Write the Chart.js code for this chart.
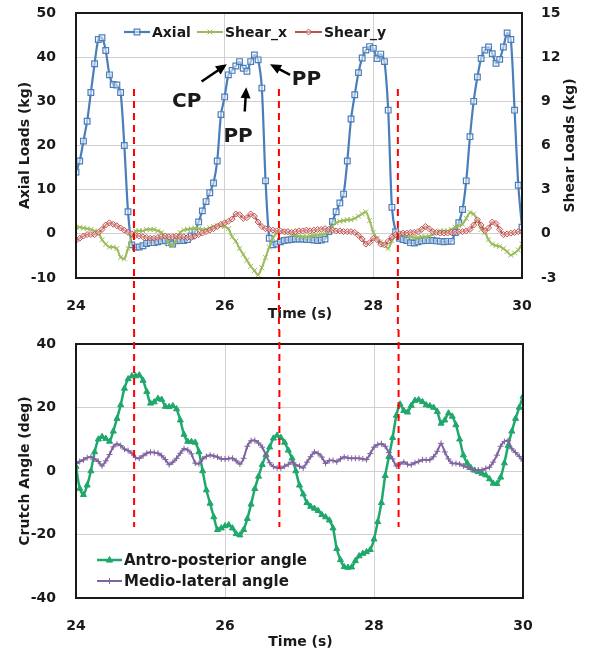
<!DOCTYPE html>
<html>
<head>
<meta charset="utf-8">
<script src="https://cdn.jsdelivr.net/npm/chart.js@4.4.0/dist/chart.umd.min.js"></script>
<style>
  html, body { margin: 0; padding: 0; background: #fff; }
  #wrap { position: relative; width: 592px; height: 653px; }
  canvas { position: absolute; left: 0; }
  #loads { top: 0; }
  #angles { top: 330px; }
</style>
</head>
<body>
<div id="wrap">
  <canvas id="loads" width="592" height="330"></canvas>
  <canvas id="angles" width="592" height="323"></canvas>
</div>
<script>
// sample times (s)
const time = [
  24, 24.05, 24.1, 24.15, 24.2, 24.25, 24.3, 24.35, 24.4, 24.45,
  24.5, 24.55, 24.6, 24.65, 24.7, 24.75, 24.8, 24.85, 24.9, 24.95,
  25, 25.05, 25.1, 25.15, 25.2, 25.25, 25.3, 25.35, 25.4, 25.45,
  25.5, 25.55, 25.6, 25.65, 25.7, 25.75, 25.8, 25.85, 25.9, 25.95,
  26, 26.05, 26.1, 26.15, 26.2, 26.25, 26.3, 26.35, 26.4, 26.45,
  26.5, 26.55, 26.6, 26.65, 26.7, 26.75, 26.8, 26.85, 26.9, 26.95,
  27, 27.05, 27.1, 27.15, 27.2, 27.25, 27.3, 27.35, 27.4, 27.45,
  27.5, 27.55, 27.6, 27.65, 27.7, 27.75, 27.8, 27.85, 27.9, 27.95,
  28, 28.05, 28.1, 28.15, 28.2, 28.25, 28.3, 28.35, 28.4, 28.45,
  28.5, 28.55, 28.6, 28.65, 28.7, 28.75, 28.8, 28.85, 28.9, 28.95,
  29, 29.05, 29.1, 29.15, 29.2, 29.25, 29.3, 29.35, 29.4, 29.45,
  29.5, 29.55, 29.6, 29.65, 29.7, 29.75, 29.8, 29.85, 29.9, 29.95,
  30
];

// top chart: loads (kg)
const axial = [
  14, 16.5, 21, 25.5, 32, 38.5, 44, 44.4, 41.5, 36,
  33.8, 33.7, 32, 20, 5, -2.5, -3, -3, -2.7, -2.2,
  -2, -2, -1.8, -1.6, -1.5, -2, -2.3, -1.6, -1.5, -1.5,
  -1.3, -0.5, 0.5, 2.7, 5.2, 7.3, 9.3, 11.5, 16.5, 27,
  31, 36, 37, 38, 39, 37.5, 36.8, 39, 40.5, 39.4,
  33, 12, -1, -2.5, -2.3, -1.8, -1.5, -1.4, -1.3, -1.2,
  -1.2, -1.2, -1.3, -1.3, -1.4, -1.5, -1.4, -1.2, 0.5, 2.8,
  5, 7, 9, 16.5, 26, 31.5, 36.5, 39.8, 41.6, 42.4,
  42, 39.7, 40.7, 39, 28, 6, 0.5, -1, -1.3, -1.5,
  -2, -2.1, -1.8, -1.6, -1.5, -1.5, -1.5, -1.6, -1.7, -1.8,
  -1.7, -1.7, 0.3, 2.5, 5.5, 12, 22, 30, 35.5, 39.7,
  41.6, 42.3, 40.8, 38.6, 39.5, 42.3, 45.5, 44, 28, 11,
  1.5
];
const shearX = [
  0.45, 0.45, 0.4, 0.35, 0.3, 0.2, 0.1, -0.4, -0.7, -0.9,
  -0.9, -1.0, -1.6, -1.7, -1.0, -0.2, 0.2, 0.2, 0.2, 0.3,
  0.3, 0.3, 0.2, 0.1, -0.2, -0.7, -0.8, -0.4, 0.1, 0.25,
  0.3, 0.35, 0.4, 0.35, 0.3, 0.3, 0.4, 0.5, 0.55, 0.55,
  0.5, 0.35, -0.2, -0.5, -1.0, -1.4, -1.8, -2.2, -2.5, -2.8,
  -2.3, -1.6, -0.9, -0.3, 0.05, 0.15, 0.15, 0.1, 0.0, -0.1,
  -0.15, -0.2, -0.2, -0.15, -0.1, -0.1, -0.05, 0.0, 0.2, 0.5,
  0.75, 0.85, 0.9, 0.95, 0.95, 1.05, 1.2, 1.35, 1.5, 0.9,
  0.1, -0.3, -0.55, -0.75, -1.0, -0.5, -0.1, 0.05, 0.0, -0.15,
  -0.2, -0.25, -0.25, -0.2, -0.2, -0.15, -0.05, 0.1, 0.2, 0.2,
  0.2, 0.3, 0.45, 0.55, 0.65, 1.05, 1.45, 1.35, 0.9, 0.3,
  0.1, -0.4, -0.7, -0.8, -0.85, -1.0, -1.2, -1.45, -1.3, -1.1,
  -0.7
];
const shearY = [
  -0.45, -0.3, -0.15, -0.05, -0.05, -0.05, 0.1, 0.3, 0.6, 0.75,
  0.65, 0.55, 0.4, 0.25, 0.1, 0.0, -0.1, -0.15, -0.2, -0.25,
  -0.3, -0.3, -0.25, -0.2, -0.15, -0.2, -0.2, -0.15, -0.2, -0.2,
  -0.25, -0.25, -0.15, -0.05, 0.05, 0.15, 0.25, 0.35, 0.5, 0.65,
  0.75, 0.85, 1.0, 1.35, 1.3, 1.05, 1.1, 1.35, 1.2, 0.8,
  0.5, 0.35, 0.3, 0.25, 0.2, 0.2, 0.15, 0.15, 0.1, 0.15,
  0.2, 0.2, 0.25, 0.2, 0.25, 0.3, 0.3, 0.35, 0.3, 0.25,
  0.2, 0.2, 0.15, 0.15, 0.15, 0.1, -0.1, -0.35, -0.7, -0.6,
  -0.3, -0.4, -0.7, -0.75, -0.5, -0.2, -0.05, 0.0, 0.05, 0.05,
  0.1, 0.1, 0.15, 0.3, 0.5, 0.35, 0.15, 0.1, 0.05, 0.05,
  0.05, 0.1, 0.15, 0.15, 0.15, 0.2, 0.3, 0.6, 0.95, 0.6,
  0.2, 0.4, 0.8, 0.7, 0.3, -0.05, 0.0, 0.05, 0.1, 0.15,
  0.15
];

// bottom chart: crutch angles (deg)
const antroPosterior = [
  1.4, -5.5, -7.5, -4.5, 0, 6, 10, 10.8, 10.2, 9.3,
  12.5, 16.5, 20.8, 26, 29, 29.9, 29.9, 30.2, 28.5, 25,
  21.3, 21.7, 22.8, 22.5, 20.3, 20.2, 20.5, 19.5, 16, 11.5,
  9.3, 9.2, 9.0, 6, 0, -6, -10.2, -14.5, -18.5, -18,
  -17.3, -17, -18, -19.8, -20.2, -18.5, -15, -10.5, -5.6, -1.7,
  2, 5, 7.5, 10.3, 11.2, 10.5, 9, 6.5, 4, 0,
  -4.5, -7.3, -10, -11.2, -11.8, -12.5, -13.8, -14.5, -15.5, -18,
  -24.5, -28, -30.2, -30.4, -30.3, -28.3, -26.8, -26, -25.5, -24.8,
  -21.5, -16, -10, -1.5, 4.5, 10.5, 17.5, 21, 19, 18.5,
  20.6, 22.2, 22.4, 21.8, 20.8, 20.5, 20, 18.7, 15, 16,
  18.2, 17.2, 14.5, 10, 5, 2.5, 1, 0.2, -0.3, -0.8,
  -1.3, -2.5, -3.9, -4, -2, 2.5, 8, 12.5, 16.5, 20,
  23.5
];
const medioLateral = [
  2.4, 3.0, 3.5, 4.2, 4.4, 3.8, 3.0, 1.6, 3.2, 5.2,
  7.6, 8.5, 8.0, 6.9, 6.4, 5.6, 4.2, 4.0, 4.8, 5.6,
  5.9, 5.8, 5.6, 4.8, 3.6, 2.0, 2.8, 4.0, 5.6, 7.0,
  6.6, 5.4, 2.5, 2.3, 3.8, 4.6, 5.0, 4.7, 4.4, 3.8,
  3.8, 3.9, 4.0, 3.2, 2.2, 4.0, 7.8, 9.5, 9.6, 8.8,
  7.5, 5.0, 2.6, 1.4, 1.0, 0.9, 1.5, 2.1, 2.8, 1.9,
  1.5, 1.0, 2.8, 4.5, 6.0, 5.5, 4.4, 2.4, 3.3, 3.3,
  2.9, 3.8, 4.4, 4.1, 4.0, 4.0, 4.0, 3.8, 3.6, 5.5,
  7.5, 8.3, 8.6, 7.8, 5.8, 3.8, 1.6, 2.2, 2.8, 2.1,
  2.0, 2.6, 3.0, 3.5, 3.5, 3.5, 4.5, 6.2, 8.7, 6.0,
  3.8, 2.4, 2.4, 2.2, 1.6, 1.2, 0.6, 0.3, 0.3, 0.3,
  0.8, 1.2, 2.8, 5.0, 7.8, 9.3, 9.6, 7.0, 5.8, 4.6,
  3.2
];

// red dashed event markers (s) and where they start / stop
const guideTimes = [24.78, 26.73, 28.33];
const guideTopKg = 32.8;
const guideBottomDeg = -17.6;

// CP / PP annotations (time, kg)
const notes = [
  { text: 'CP', t: 25.49, kg: 29.9 },
  { text: 'PP', t: 26.18, kg: 21.9 },
  { text: 'PP', t: 27.10, kg: 34.8 }
];
const arrows = [
  { from: [25.69, 34.5], to: [26.03, 38.4] },
  { from: [26.27, 27.7], to: [26.29, 33.2] },
  { from: [26.88, 36.0], to: [26.61, 38.4] }
];

const FONT = "'DejaVu Sans', sans-serif";
const INK = '#1a1a1a';
const GRID = '#d0d0d0';
const NONE = 'rgba(0,0,0,0)';

const pts = arr => time.map((t, i) => ({ x: t, y: arr[i] }));
const tickFont = { family: FONT, size: 14, weight: 'bold' };

function drawText(ctx, text, x, y, size, rot, align) {
  ctx.save();
  ctx.translate(x, y);
  if (rot) ctx.rotate(rot);
  ctx.font = 'bold ' + size + 'px ' + FONT;
  ctx.fillStyle = INK;
  ctx.textAlign = align || 'center';
  ctx.textBaseline = 'middle';
  ctx.fillText(text, 0, 0);
  ctx.restore();
}

function drawFrame(chart) {
  const a = chart.chartArea, ctx = chart.ctx;
  ctx.save();
  ctx.strokeStyle = INK;
  ctx.lineWidth = 2;
  ctx.strokeRect(a.left, a.top, a.right - a.left, a.bottom - a.top);
  ctx.restore();
}

function drawGuides(chart, y0, y1) {
  const ctx = chart.ctx;
  ctx.save();
  ctx.strokeStyle = '#ff0000';
  ctx.lineWidth = 2;
  ctx.setLineDash([7, 5]);
  guideTimes.forEach(t => {
    const x = chart.scales.x.getPixelForValue(t);
    ctx.beginPath();
    ctx.moveTo(x, y0);
    ctx.lineTo(x, y1);
    ctx.stroke();
  });
  ctx.restore();
}

function drawArrow(ctx, x1, y1, x2, y2) {
  const ang = Math.atan2(y2 - y1, x2 - x1), head = 11, half = 5;
  const c = Math.cos(ang), s = Math.sin(ang);
  ctx.save();
  ctx.strokeStyle = '#000';
  ctx.fillStyle = '#000';
  ctx.lineWidth = 2.5;
  ctx.beginPath();
  ctx.moveTo(x1, y1);
  ctx.lineTo(x2 - head * 0.8 * c, y2 - head * 0.8 * s);
  ctx.stroke();
  ctx.beginPath();
  ctx.moveTo(x2, y2);
  ctx.lineTo(x2 - head * c + half * s, y2 - head * s - half * c);
  ctx.lineTo(x2 - head * c - half * s, y2 - head * s + half * c);
  ctx.closePath();
  ctx.fill();
  ctx.restore();
}

function drawMarker(ctx, ds, x, y) {
  const r = ds.pointRadius;
  ctx.save();
  ctx.strokeStyle = ds.borderColor;
  ctx.fillStyle = ds.pointBackgroundColor;
  ctx.lineWidth = ds.pointBorderWidth;
  ctx.beginPath();
  if (ds.pointStyle === 'rect') {
    const h = r * Math.SQRT1_2;
    ctx.rect(x - h, y - h, 2 * h, 2 * h);
    ctx.fill(); ctx.stroke();
  } else if (ds.pointStyle === 'rectRot') {
    ctx.moveTo(x, y - r); ctx.lineTo(x + r, y); ctx.lineTo(x, y + r); ctx.lineTo(x - r, y);
    ctx.closePath(); ctx.fill(); ctx.stroke();
  } else if (ds.pointStyle === 'triangle') {
    ctx.moveTo(x, y - r); ctx.lineTo(x + r * 0.9, y + r * 0.6); ctx.lineTo(x - r * 0.9, y + r * 0.6);
    ctx.closePath(); ctx.fill(); ctx.stroke();
  } else if (ds.pointStyle === 'cross') {
    ctx.moveTo(x - r, y); ctx.lineTo(x + r, y); ctx.moveTo(x, y - r); ctx.lineTo(x, y + r);
    ctx.stroke();
  } else {
    const h = r * Math.SQRT1_2;
    ctx.moveTo(x - h, y - h); ctx.lineTo(x + h, y + h); ctx.moveTo(x + h, y - h); ctx.lineTo(x - h, y + h);
    ctx.stroke();
  }
  ctx.restore();
}

function drawLegendItem(ctx, ds, x, y, len, size) {
  ctx.save();
  ctx.strokeStyle = ds.borderColor;
  ctx.lineWidth = ds.borderWidth;
  ctx.beginPath();
  ctx.moveTo(x, y);
  ctx.lineTo(x + len, y);
  ctx.stroke();
  ctx.restore();
  drawMarker(ctx, ds, x + len / 2, y);
  drawText(ctx, ds.label, x + len + 2, y + 1, size, 0, 'left');
}

// ---------- top chart ----------
const loadsDecor = {
  id: 'loadsDecor',
  beforeDatasetsDraw(chart) { drawFrame(chart); },
  afterDraw(chart) {
    const ctx = chart.ctx, a = chart.chartArea, sx = chart.scales.x, sy = chart.scales.y;
    const midY = (a.top + a.bottom) / 2;
    drawFrame(chart);
    drawText(ctx, 'Axial Loads (kg)', 25, midY, 14, -Math.PI / 2);
    drawText(ctx, 'Shear Loads (kg)', 570, midY, 14, -Math.PI / 2);
    drawText(ctx, 'Time (s)', (a.left + a.right) / 2 + 1, a.bottom + 36, 14);

    const ds = chart.data.datasets;
    const ly = a.top + 19;
    drawLegendItem(ctx, ds[0], a.left + 48, ly, 26, 14);
    drawLegendItem(ctx, ds[1], a.left + 121, ly, 26, 14);
    drawLegendItem(ctx, ds[2], a.left + 219, ly, 27, 14);

    notes.forEach(n => drawText(ctx, n.text, sx.getPixelForValue(n.t), sy.getPixelForValue(n.kg), 20));
    arrows.forEach(ar => drawArrow(ctx,
      sx.getPixelForValue(ar.from[0]), sy.getPixelForValue(ar.from[1]),
      sx.getPixelForValue(ar.to[0]), sy.getPixelForValue(ar.to[1])));

    drawGuides(chart, sy.getPixelForValue(guideTopKg), chart.height);
  }
};

new Chart(document.getElementById('loads'), {
  type: 'line',
  data: {
    datasets: [
      {
        label: 'Axial', data: pts(axial), yAxisID: 'y', order: 2,
        borderColor: '#4a7ebb', borderWidth: 2.2, tension: 0.25,
        pointStyle: 'rect', pointRadius: 4, pointBorderWidth: 1.2,
        pointBorderColor: '#4a7ebb', pointBackgroundColor: 'rgba(255,255,255,0.5)'
      },
      {
        label: 'Shear_x', data: pts(shearX), yAxisID: 'y1', order: 1,
        borderColor: '#9bbb59', borderWidth: 2, tension: 0.25,
        pointStyle: 'crossRot', pointRadius: 3.5, pointBorderWidth: 1,
        pointBorderColor: '#9bbb59', pointBackgroundColor: '#9bbb59'
      },
      {
        label: 'Shear_y', data: pts(shearY), yAxisID: 'y1', order: 0,
        borderColor: '#c0504d', borderWidth: 2, tension: 0.25,
        pointStyle: 'rectRot', pointRadius: 3, pointBorderWidth: 1,
        pointBorderColor: '#c0504d', pointBackgroundColor: 'rgba(255,255,255,0.4)'
      }
    ]
  },
  options: {
    responsive: false,
    animation: false,
    layout: { padding: { left: 16, top: 13, right: 0, bottom: 0 } },
    plugins: { legend: { display: false }, tooltip: { enabled: false } },
    scales: {
      x: {
        type: 'linear', min: 24, max: 30,
        ticks: { stepSize: 2, padding: 3, font: tickFont, color: INK, maxRotation: 0 },
        grid: { color: GRID, tickLength: 17, tickColor: NONE },
        border: { display: false },
        afterFit(s) { s.height = 52; }
      },
      y: {
        min: -10, max: 50,
        ticks: { stepSize: 10, padding: 3, font: tickFont, color: INK },
        grid: { color: GRID, tickLength: 17, tickColor: NONE },
        border: { display: false },
        afterFit(s) { s.width = 60; }
      },
      y1: {
        position: 'right', min: -3, max: 15,
        ticks: { stepSize: 3, padding: 3, font: tickFont, color: INK },
        grid: { drawOnChartArea: false, tickLength: 16, tickColor: NONE },
        border: { display: false },
        afterFit(s) { s.width = 70; }
      }
    }
  },
  plugins: [loadsDecor]
});

// ---------- bottom chart ----------
const anglesDecor = {
  id: 'anglesDecor',
  beforeDatasetsDraw(chart) { drawFrame(chart); },
  afterDraw(chart) {
    const ctx = chart.ctx, a = chart.chartArea, sy = chart.scales.y;
    drawFrame(chart);
    drawText(ctx, 'Crutch Angle (deg)', 25, (a.top + a.bottom) / 2, 14, -Math.PI / 2);
    drawText(ctx, 'Time (s)', (a.left + a.right) / 2 + 1, a.bottom + 44, 14);

    const ds = chart.data.datasets;
    drawLegendItem(ctx, ds[0], a.left + 21, a.bottom - 38, 25, 15);
    drawLegendItem(ctx, ds[1], a.left + 21, a.bottom - 17, 25, 15);

    drawGuides(chart, 0, sy.getPixelForValue(guideBottomDeg));
  }
};

new Chart(document.getElementById('angles'), {
  type: 'line',
  data: {
    datasets: [
      {
        label: 'Antro-posterior angle', data: pts(antroPosterior), order: 1,
        borderColor: '#1fa86b', borderWidth: 2.5, tension: 0.25,
        pointStyle: 'triangle', pointRadius: 3.5, pointBorderWidth: 1,
        pointBorderColor: '#1fa86b', pointBackgroundColor: '#1fa86b'
      },
      {
        label: 'Medio-lateral angle', data: pts(medioLateral), order: 0,
        borderColor: '#8064a2', borderWidth: 2, tension: 0.25,
        pointStyle: 'cross', pointRadius: 3, pointBorderWidth: 1,
        pointBorderColor: '#8064a2', pointBackgroundColor: '#8064a2'
      }
    ]
  },
  options: {
    responsive: false,
    animation: false,
    layout: { padding: { left: 16, top: 14, right: 69, bottom: 0 } },
    plugins: { legend: { display: false }, tooltip: { enabled: false } },
    scales: {
      x: {
        type: 'linear', min: 24, max: 30,
        ticks: { stepSize: 2, padding: 3, font: tickFont, color: INK, maxRotation: 0 },
        grid: { color: GRID, tickLength: 17, tickColor: NONE },
        border: { display: false },
        afterFit(s) { s.height = 55; }
      },
      y: {
        min: -40, max: 40,
        ticks: { stepSize: 20, padding: 3, font: tickFont, color: INK },
        grid: { color: GRID, tickLength: 17, tickColor: NONE },
        border: { display: false },
        afterFit(s) { s.width = 60; }
      }
    }
  },
  plugins: [anglesDecor]
});
</script>
</body>
</html>
